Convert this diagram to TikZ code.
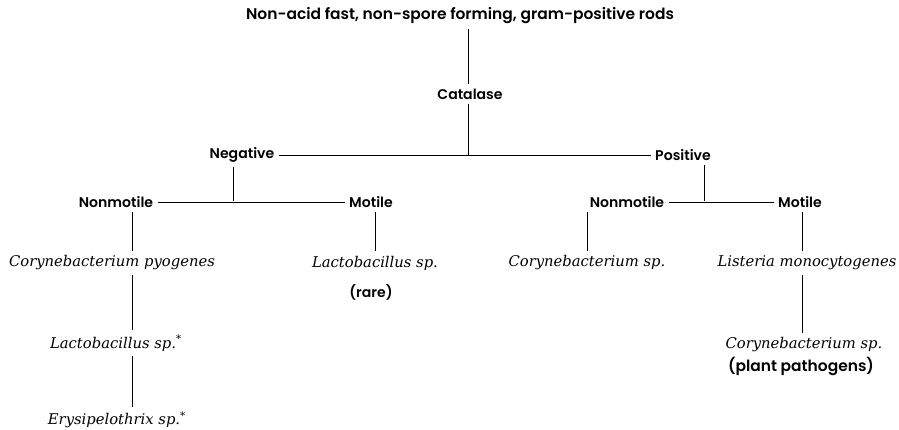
\documentclass[tikz,border=0pt]{standalone}
\usepackage{fontspec}
\newfontfamily\lblfont{Poppins SemiBold}
\newfontfamily\orgfont{DejaVu Serif}
\usepackage{tikz}

\begin{document}
\begin{tikzpicture}[
            x=0.025cm, y=-0.025cm,
            testnode/.style={font=\lblfont\fontsize{10}{12}\selectfont, inner sep=3pt},
            orgnode/.style={font=\orgfont\itshape\fontsize{10.5}{13}\selectfont, inner sep=3pt},
            notenode/.style={font=\lblfont\fontsize{10}{12}\selectfont, inner sep=1pt},
            every path/.style={line width=0.7pt}
          ]
          \useasboundingbox (0,0) rectangle (899,429);

          %Nodes
          \node[testnode, font=\lblfont\fontsize{11}{13}\selectfont] at (460,16) (top) {Non-acid fast, non-spore forming, gram-positive rods};
          \node[testnode] at (470,94) (cat) {Catalase};
          \node[testnode] at (242,155) (neg) {Negative};
          \node[testnode] at (683,155) (pos) {Positive};
          \node[testnode] at (116,202) (nmA) {Nonmotile};
          \node[testnode] at (371,202) (mA) {Motile};
          \node[testnode] at (627,202) (nmB) {Nonmotile};
          \node[testnode] at (800,202) (mB) {Motile};
          \node[orgnode] at (112,263) (cpA) {Corynebacterium pyogenes};
          \node[orgnode] at (116,343) (lbA) {Lactobacillus sp.\textsuperscript{*}};
          \node[orgnode] at (117,420) (erA) {Erysipelothrix sp.\textsuperscript{*}};
          \node[orgnode] at (375,263) (lbB) {Lactobacillus sp.};
          \node[notenode] at (371,292) (rare) {(rare)};
          \node[orgnode] at (587,263) (csB) {Corynebacterium sp.};
          \node[orgnode] at (807,263) (lmB) {Listeria monocytogenes};
          \node[orgnode] at (804,345) (cpB) {Corynebacterium sp.};
          \node[notenode, font=\lblfont\fontsize{11}{13}\selectfont] at (801,366) (plant) {(plant pathogens)};

          %Junctions
          \coordinate (jCat) at (468,155);
          \coordinate (jNeg) at (233,201);
          \coordinate (jPos) at (704,201);
          \coordinate (colA) at (132,0);
          \coordinate (colB) at (375,0);
          \coordinate (colC) at (587,0);
          \coordinate (colD) at (802,0);

          %Lines
          \draw (jCat |- top.south) -- (jCat |- cat.north);
          \draw (jCat |- cat.south) -- (jCat);
          \draw (neg.east) -- (pos.west);
          \draw (jNeg |- neg.south) -- (jNeg);
          \draw (nmA.east) -- (mA.west);
          \draw (jPos |- pos.south) -- (jPos);
          \draw (nmB.east) -- (mB.west);
          \draw (colA |- nmA.south) -- (colA |- cpA.north);
          \draw (colA |- cpA.south) -- (colA |- lbA.north);
          \draw (colA |- lbA.south) -- (colA |- erA.north);
          \draw (colB |- mA.south) -- (colB |- lbB.north);
          \draw (colC |- nmB.south) -- (colC |- csB.north);
          \draw (colD |- mB.south) -- (colD |- lmB.north);
          \draw (colD |- lmB.south) -- (colD |- cpB.north);

        \end{tikzpicture}
\end{document}
